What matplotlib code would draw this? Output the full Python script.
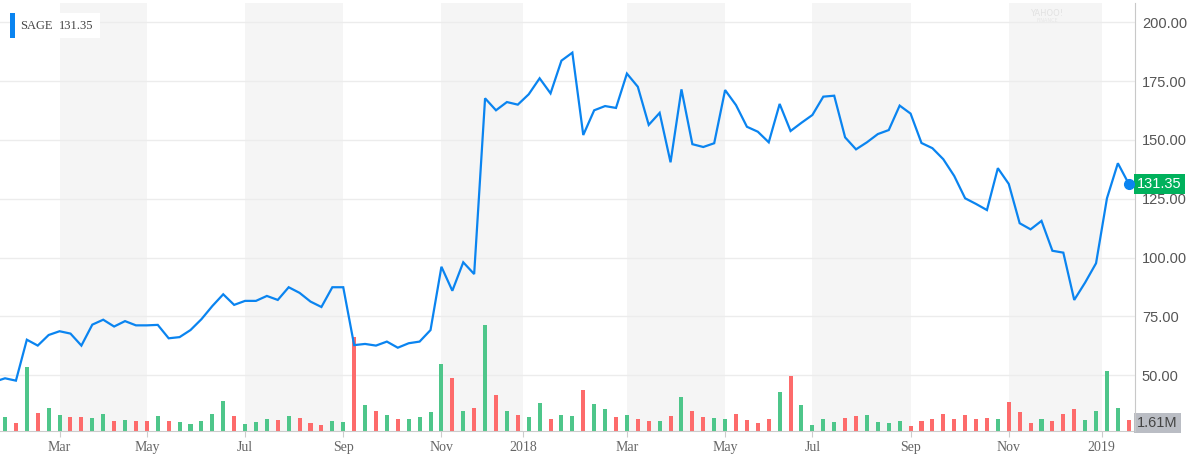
import numpy as np
import matplotlib
matplotlib.use("Agg")
import matplotlib.pyplot as plt
from matplotlib.patches import Rectangle
from matplotlib.transforms import blended_transform_factory

# weekly closes, first value is the week before the first volume bar
prices = [
    47.2, 48.7, 47.7, 65.1, 62.6, 67.1, 68.7, 67.7, 62.6, 71.5, 73.6,
    70.7, 73.0, 71.2, 71.2, 71.4, 65.7, 66.2, 69.2, 73.8, 79.4,
    84.4, 79.9, 81.6, 81.6, 83.7, 82.0, 87.4, 85.0, 81.3, 79.0,
    87.4, 87.4, 62.8, 63.3, 62.6, 64.3, 61.7, 63.6, 64.3, 69.2,
    96.1, 85.9, 98.0, 93.0, 167.7, 162.6, 166.1, 165.0, 169.4, 176.2,
    169.8, 183.7, 187.1, 152.1, 162.6, 164.4, 163.6, 178.2, 172.6, 156.4,
    161.5, 140.5, 171.5, 148.2, 147.0, 148.6, 171.2, 164.8, 155.6, 153.5,
    149.0, 165.3, 153.8, 157.3, 160.6, 168.4, 168.8, 151.1, 146.0, 149.0,
    152.5, 154.2, 164.6, 161.2, 148.7, 146.5, 141.8, 134.7, 125.2, 122.8,
    120.2, 138.0, 131.3, 114.6, 112.0, 115.6, 102.9, 102.1, 82.0, 89.4,
    97.6, 125.2, 140.1, 131.35,
]

# weekly volume, millions
volumes = [
    2.05, 1.22, 9.41, 2.68, 3.37, 2.34, 2.05, 2.05, 1.90, 2.49,
    1.46, 1.61, 1.46, 1.46, 2.20, 1.46, 1.32, 1.02, 1.46, 2.49,
    4.39, 2.20, 1.02, 1.32, 1.76, 1.61, 2.20, 1.90, 1.17, 0.88,
    1.46, 1.32, 13.76, 3.81, 2.93, 2.34, 1.76, 1.76, 2.05, 2.78,
    9.81, 7.76, 2.93, 3.37, 15.52, 5.27, 2.93, 2.34, 2.05, 4.10,
    1.76, 2.34, 2.20, 6.00, 3.95, 3.22, 2.05, 2.34, 1.76, 1.46,
    1.46, 2.20, 4.98, 2.93, 2.05, 1.90, 1.76, 2.49, 1.61, 1.17,
    1.76, 5.71, 8.05, 3.81, 0.88, 1.76, 1.32, 1.90, 2.20, 2.34,
    1.32, 1.17, 1.46, 0.73, 1.46, 1.76, 2.49, 1.76, 2.34, 1.76,
    1.90, 1.76, 4.25, 2.78, 1.17, 1.76, 1.46, 2.49, 3.22, 1.61,
    2.93, 8.78, 3.37, 1.61,
]

# up (g) / down (r) week, one per volume bar
moves = [
    "g", "r", "g", "r", "g", "g", "r", "r", "g", "g",
    "r", "g", "r", "r", "g", "r", "g", "g", "g", "g",
    "g", "r", "g", "g", "g", "r", "g", "r", "r", "r",
    "g", "g", "r", "g", "r", "g", "r", "g", "g", "g",
    "g", "r", "g", "r", "g", "r", "g", "r", "g", "g",
    "r", "g", "g", "r", "g", "g", "r", "g", "r", "r",
    "g", "r", "g", "r", "r", "g", "g", "r", "r", "r",
    "r", "g", "r", "g", "g", "g", "g", "r", "r", "g",
    "g", "g", "g", "r", "r", "r", "r", "r", "r", "r",
    "r", "g", "r", "r", "r", "g", "r", "r", "r", "g",
    "g", "g", "g", "r",
]

tick_pos = [5, 13, 22, 31, 40, 47.5, 57, 66, 74, 83, 92, 100.5]
tick_labels = ["Mar", "May", "Jul", "Sep", "Nov", "2018",
               "Mar", "May", "Jul", "Sep", "Nov", "2019"]
# shaded month bands (start, end) in week index
bands = [(5, 13), (22, 31), (40, 47.5), (57, 66), (74, 83), (92, 100.5)]

price_ticks = [50, 75, 100, 125, 150, 175, 200]
last_price = prices[-1]
last_volume = volumes[-1]

BLUE = "#0a84f0"
GREEN = "#4ec68a"
RED = "#fd6b6b"

fig = plt.figure(figsize=(11.9, 4.58), dpi=100)
rect = [0, 27 / 458, 1135 / 1190, 428 / 458]
ax_vol = fig.add_axes(rect)
ax = ax_vol.twinx()

x_price = np.arange(-1, len(prices) - 1)
x_vol = np.arange(len(volumes))

# background bands and grid
for a, b in bands:
    ax_vol.axvspan(a, b, color="#f5f5f5", lw=0, zorder=0)
grid_tf = blended_transform_factory(ax_vol.transAxes, ax.transData)
for v in price_ticks:
    ax_vol.plot([0, 1], [v, v], transform=grid_tf, color="#ececec", lw=1, zorder=1)

bar_colors = [GREEN if m == "g" else RED for m in moves]
ax_vol.bar(x_vol, volumes, width=0.37, color=bar_colors, zorder=2)
ax_vol.set_ylim(0, 62.7)
ax_vol.set_yticks([])

ax.plot(x_price, prices, color=BLUE, lw=1.6, zorder=3, solid_joinstyle="miter")
ax.plot(x_price[-1], last_price, "o", color=BLUE, ms=7, zorder=4)

ax.set_xlim(-0.46, 103.57)
ax.set_ylim(26.3, 208.2)
ax.set_yticks(price_ticks)
ax.set_yticklabels(["%.2f" % v for v in price_ticks], fontfamily="Liberation Sans",
                   fontsize=10.5, color="#555555")
ax.tick_params(axis="y", length=0, pad=5)

ax_vol.set_xticks(tick_pos)
ax_vol.set_xticklabels(tick_labels, fontfamily="Liberation Serif", fontsize=10,
                       color="#666666")
ax_vol.tick_params(axis="x", length=4, color="#cccccc", pad=3)

for a in (ax, ax_vol):
    for s in a.spines.values():
        s.set_visible(False)
ax_vol.spines["bottom"].set_visible(True)
ax_vol.spines["bottom"].set_color("#cccccc")
ax.spines["right"].set_visible(True)
ax.spines["right"].set_color("#c8c8c8")

# right-hand badges
tf_p = blended_transform_factory(ax.transAxes, ax.transData)
ax.text(1.002, last_price, "%.2f" % last_price, transform=tf_p, ha="left", va="center",
        fontfamily="Liberation Sans", fontsize=10.5, color="white", clip_on=False,
        bbox=dict(boxstyle="square,pad=0.22", fc="#00b15c", ec="none"))
tf_v = blended_transform_factory(ax_vol.transAxes, ax_vol.transData)
ax_vol.text(1.002, last_volume / 2 + 0.4, "%.2fM" % last_volume, transform=tf_v,
            ha="left", va="center", fontfamily="Liberation Sans", fontsize=10.5,
            color="#444444", clip_on=False,
            bbox=dict(boxstyle="square,pad=0.22", fc="#babdc4", ec="none"))

# watermark
fig.text(1047 / 1190, 1 - 14 / 458, "YAHOO!", ha="center", va="center",
         fontsize=6, color="#e2e2e2")
fig.text(1047 / 1190, 1 - 20 / 458, "FINANCE", ha="center", va="center",
         fontsize=3.5, color="#e6e6e6")

# legend box top-left
fig.patches.append(Rectangle((10 / 1190, 1 - 38 / 458), 90 / 1190, 25 / 458,
                             transform=fig.transFigure, fc="white", ec="none", zorder=5))
fig.patches.append(Rectangle((10 / 1190, 1 - 38 / 458), 5 / 1190, 25 / 458,
                             transform=fig.transFigure, fc=BLUE, ec="none", zorder=6))
fig.text(20 / 1190, 1 - 26 / 458, "SAGE", ha="left", va="center",
         fontfamily="Liberation Serif", fontsize=9, color="#444444", zorder=7)
fig.text(59 / 1190, 1 - 26 / 458, "%.2f" % last_price, ha="left", va="center",
         fontfamily="Liberation Serif", fontsize=9, color="#444444", zorder=7)

fig.savefig("out.png", dpi=100)
